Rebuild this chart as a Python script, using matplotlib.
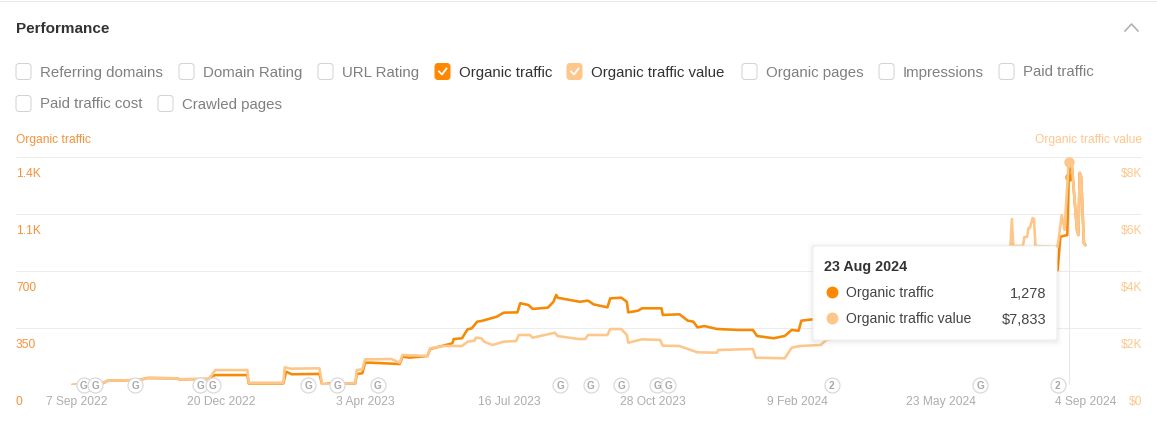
import matplotlib
matplotlib.use('Agg')
import matplotlib.pyplot as plt
from matplotlib.patches import FancyBboxPatch

plt.rcParams['font.family'] = ['Liberation Sans', 'DejaVu Sans']

# Days counted from 7 Sep 2022, organic traffic
traffic_days = [-3, 19, 22, 45, 51, 72, 74, 95, 98, 100, 123, 124, 149, 151, 155, 175, 177, 183, 201, 202,
                206, 208, 212, 233, 235, 240, 253, 255, 271, 272, 278, 282, 285, 289, 292, 303, 308, 318,
                320, 326, 329, 340, 344, 346, 347, 363, 369, 373, 383, 385, 393, 397, 398, 405, 408, 422,
                423, 435, 441, 445, 448, 453, 462, 477, 488, 491, 503, 511, 516, 521, 523, 531,
                560, 620, 680, 708, 710, 715, 716, 718, 722, 723, 724, 725, 727, 728]
traffic = [0, 12, 26, 31, 43, 41, 35, 37, 55, 61, 61, 10, 10, 82, 66, 68, 4, 10, 10, 68,
           72, 137, 137, 129, 174, 168, 178, 221, 256, 282, 287, 342, 348, 389, 393, 419, 444, 446,
           502, 491, 467, 475, 511, 553, 536, 511, 518, 495, 477, 532, 536, 511, 446, 456, 471, 471,
           430, 434, 395, 389, 354, 362, 344, 338, 338, 301, 287, 301, 338, 333, 395, 403,
           440, 520, 600, 706, 910, 921, 1278, 1380, 952, 921, 1302, 1277, 872, 860]

# Organic traffic value in dollars
value_days = [-3, 19, 22, 45, 51, 72, 74, 95, 100, 123, 124, 149, 150, 154, 175, 177, 201, 202, 206, 208,
              212, 227, 233, 235, 253, 255, 265, 278, 282, 287, 288, 292, 294, 300, 308, 317, 319, 327,
              329, 340, 345, 347, 362, 367, 369, 383, 385, 393, 397, 398, 408, 421, 423, 435, 448, 462,
              463, 488, 490, 511, 516, 522, 537, 541, 600, 640, 674, 675, 676, 683, 684, 686, 687, 688,
              690, 691, 692, 708, 711, 713, 716, 718, 722, 723, 724, 725, 727, 728]
value = [0, 70, 150, 175, 245, 235, 200, 210, 526, 526, 81, 81, 621, 572, 586, 25, 70, 526, 550, 902,
         900, 912, 782, 1053, 1018, 1288, 1368, 1368, 1519, 1554, 1660, 1638, 1519, 1404, 1519, 1544, 1755, 1754,
         1660, 1779, 1835, 1719, 1614, 1614, 1754, 1754, 1965, 1965, 1754, 1484, 1603, 1579, 1379, 1368, 1147, 1133,
         1228, 1263, 958, 937, 1309, 1368, 1404, 1579, 2200, 3400, 4877, 5825, 4877, 4877, 5193, 5193, 5509, 5509,
         5860, 5820, 4877, 4842, 5965, 5439, 7833, 7895, 5439, 5263, 7439, 7299, 4983, 4912]

tick_days = [0, 104, 208, 312, 416, 520, 624, 728]
tick_labels = ['7 Sep 2022', '20 Dec 2022', '3 Apr 2023', '16 Jul 2023', '28 Oct 2023',
               '9 Feb 2024', '23 May 2024', '4 Sep 2024']
traffic_ticks = [0, 350, 700, 1050, 1400]
traffic_tick_labels = ['0', '350', '700', '1.1K', '1.4K']
value_ticks = [0, 2000, 4000, 6000, 8000]
value_tick_labels = ['$0', '$2K', '$4K', '$6K', '$8K']

event_days = [5, 13, 42, 89, 98, 167, 188, 217, 349, 371, 393, 419, 427, 545, 652, 708]
event_labels = ['G', 'G', 'G', 'G', 'G', 'G', 'G', 'G', 'G', 'G', 'G', 'G', 'G', '2', 'G', '2']

hover_day = 716
hover_date = '23 Aug 2024'
hover_traffic = 1278
hover_value = 7833

options_row1 = ['Referring domains', 'Domain Rating', 'URL Rating', 'Organic traffic',
                'Organic traffic value', 'Organic pages', 'Impressions', 'Paid traffic']
options_row2 = ['Paid traffic cost', 'Crawled pages']

ORANGE = '#f58a07'
ORANGE_TEXT = '#f5923a'
LIGHT = '#fdc78b'
W, H = 1157, 422
PX = 72 / 100  # one pixel in points

fig = plt.figure(figsize=(W / 100, H / 100), dpi=100)

# chart area, pixel box 16-1142 by 157-385
ax = fig.add_axes([16 / W, (H - 385) / H, 1126 / W, 228 / H])
ax.set_xlim((16 - 77) / 1.385, (1142 - 77) / 1.385)
ax.set_ylim(0, 1400)
ax.set_xticks(tick_days)
ax.set_xticklabels(tick_labels, fontsize=12 * PX, color='#adadad', va='baseline')
ax.set_yticks(traffic_ticks)
ax.set_yticklabels([])
ax.tick_params(length=0, pad=14.4)
ax.grid(axis='y', color='#ececec', lw=1 * PX)
ax.set_axisbelow(True)
for s in ax.spines.values():
    s.set_visible(False)
for t, lab in zip(traffic_ticks, traffic_tick_labels):
    ax.annotate(lab, xy=(0, t), xycoords=ax.get_yaxis_transform(), xytext=(0, -17), textcoords='offset pixels',
                color=ORANGE_TEXT, fontsize=12 * PX, va='center', ha='left', annotation_clip=False)

ax.axvline(hover_day, color='#e6e6e6', lw=1 * PX)
ax.plot(traffic_days, traffic, color=ORANGE, lw=2.6 * PX, solid_joinstyle='round')

ax2 = ax.twinx()
ax2.set_ylim(0, 8000)
ax2.set_yticks(value_ticks)
ax2.set_yticklabels([])
ax2.tick_params(length=0)
for s in ax2.spines.values():
    s.set_visible(False)
for t, lab in zip(value_ticks, value_tick_labels):
    ax2.annotate(lab, xy=(1, t), xycoords=ax2.get_yaxis_transform(), xytext=(0, -17), textcoords='offset pixels',
                 color=LIGHT, fontsize=12 * PX, va='center', ha='right', annotation_clip=False)

ax2.plot(value_days, value, color=LIGHT, lw=2.6 * PX, solid_joinstyle='round')
ax.plot([hover_day], [hover_traffic], 'o', color=ORANGE, ms=7 * PX, zorder=5)
ax2.plot([hover_day], [hover_value], 'o', color=LIGHT, ms=9 * PX)

# google update / event markers on the baseline
for d, lab in zip(event_days, event_labels):
    ax2.plot([d], [0], 'o', ms=15 * PX, mfc='white', mec='#d8d8d8', mew=1.2 * PX, clip_on=False, zorder=6)
    ax2.text(d, 0, lab, fontsize=10 * PX, fontweight='bold', color='#a8a8a8', ha='center', va='center_baseline',
             zorder=7, clip_on=False)

# page furniture and tooltip, drawn in pixel coordinates
ui = fig.add_axes([0, 0, 1, 1], zorder=10)
ui.set_xlim(0, W)
ui.set_ylim(H, 0)
ui.axis('off')

ui.plot([0, W], [0.5, 0.5], color='#e8e8e8', lw=1 * PX)
ui.text(16, 33, 'Performance', fontsize=15.3 * PX, fontweight='bold', color='#333333', va='baseline')
ui.plot([1125, 1131.5, 1138], [31, 24, 31], color='#b0b0b0', lw=1.6 * PX)


def checkbox(x, y, label, fill=None):
    edge = fill if fill else '#d3d3d3'
    ui.add_patch(FancyBboxPatch((x + 2, y - 6), 11, 12, boxstyle='round,pad=2,rounding_size=3',
                                fc=fill if fill else 'white', ec=edge, lw=1 * PX))
    if fill:
        ui.plot([x + 4, x + 7, x + 11.5], [y, y + 3, y - 3], color='white', lw=1.8 * PX)
    ui.text(x + 24, y + 5, label, fontsize=15 * PX, va='baseline', color='#333333' if fill else '#808080')


row1_x = [16, 179, 318, 435, 567, 742, 879, 999]
row2_x = [16, 158]
row1_fill = [None, None, None, '#ff8800', LIGHT, None, None, None]
for x, lab, f in zip(row1_x, options_row1, row1_fill):
    checkbox(x, 71.5, lab, f)
for x, lab in zip(row2_x, options_row2):
    checkbox(x, 103.5, lab)

ui.text(16, 143.5, 'Organic traffic', fontsize=12 * PX, color=ORANGE_TEXT, va='baseline')
ui.text(1142, 143.5, 'Organic traffic value', fontsize=12 * PX, color=LIGHT, va='baseline', ha='right')

# soft shadow then the white card
for grow, a in [(5, 0.012), (3, 0.02), (1.5, 0.03)]:
    ui.add_patch(FancyBboxPatch((816 - grow, 249 - grow + 1), 238 + 2 * grow, 88 + 2 * grow,
                                boxstyle='round,pad=3,rounding_size=3', fc='black', ec='none', alpha=a))
ui.add_patch(FancyBboxPatch((816, 249), 238, 88, boxstyle='round,pad=3,rounding_size=3',
                            fc='white', ec='#efefef', lw=1 * PX))
ui.text(824, 271, hover_date, fontsize=14.2 * PX, fontweight='bold', color='#333333', va='baseline')
ui.plot([832], [292], 'o', color='#ff8800', ms=10.5 * PX)
ui.plot([832], [318], 'o', color=LIGHT, ms=10.5 * PX)
ui.text(846, 297, 'Organic traffic', fontsize=14 * PX, color='#444444', va='baseline')
ui.text(846, 323, 'Organic traffic value', fontsize=14 * PX, color='#444444', va='baseline')
ui.text(1046, 298, f'{hover_traffic:,}', fontsize=14.5 * PX, color='#444444', va='baseline', ha='right')
ui.text(1046, 324, f'${hover_value:,}', fontsize=14.5 * PX, color='#444444', va='baseline', ha='right')

fig.savefig('out.png', dpi=100)
